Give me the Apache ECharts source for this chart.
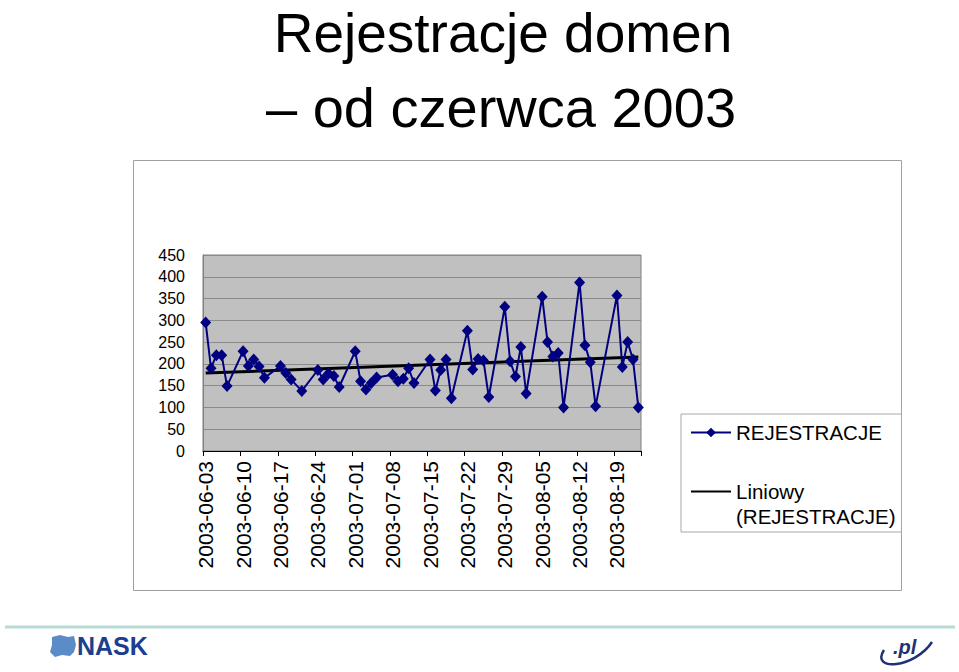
<!DOCTYPE html>
<html>
<head>
<meta charset="utf-8">
<script src="https://cdn.jsdelivr.net/npm/echarts@6/dist/echarts.min.js"></script>
<style>
html,body{margin:0;padding:0;background:#fff;}
#chart{width:959px;height:672px;}
</style>
</head>
<body>
<div id="chart"></div>
<script>
// ---- data ----
const firstDate = '2003-06-03';
const lastDate = '2003-08-23';
const obsDates = [
  '2003-06-03','2003-06-04','2003-06-05','2003-06-06','2003-06-07',
  '2003-06-10','2003-06-11','2003-06-12','2003-06-13','2003-06-14',
  '2003-06-17','2003-06-18','2003-06-19','2003-06-21',
  '2003-06-24','2003-06-25','2003-06-26','2003-06-27','2003-06-28',
  '2003-07-01','2003-07-02','2003-07-03','2003-07-04','2003-07-05',
  '2003-07-08','2003-07-09','2003-07-10','2003-07-11','2003-07-12',
  '2003-07-15','2003-07-16','2003-07-17','2003-07-18','2003-07-19',
  '2003-07-22','2003-07-23','2003-07-24','2003-07-25','2003-07-26',
  '2003-07-29','2003-07-30','2003-07-31','2003-08-01','2003-08-02',
  '2003-08-05','2003-08-06','2003-08-07','2003-08-08','2003-08-09',
  '2003-08-12','2003-08-13','2003-08-14','2003-08-15',
  '2003-08-19','2003-08-20','2003-08-21','2003-08-22','2003-08-23'
];
const registrations = [
  295,190,220,220,149,
  229,195,210,194,168,
  195,179,164,138,
  186,164,178,172,147,
  229,160,141,156,169,
  175,160,166,190,156,
  210,139,186,210,121,
  276,187,211,208,124,
  331,206,171,239,132,
  354,250,217,225,100,
  387,243,204,103,
  357,193,250,210,100
];
const trendStart = 179;   // linear trend value at first date
const trendEnd = 216;     // linear trend value at last date
const yTicks = [0,50,100,150,200,250,300,350,400,450];
const seriesName = 'REJESTRACJE';
const trendName = 'Liniowy (REJESTRACJE)';

// ---- build daily category axis ----
function fmt(d){
  const m = String(d.getUTCMonth()+1).padStart(2,'0');
  const day = String(d.getUTCDate()).padStart(2,'0');
  return d.getUTCFullYear()+'-'+m+'-'+day;
}
const categories = [];
for (let t = Date.parse(firstDate+'T00:00:00Z'); t <= Date.parse(lastDate+'T00:00:00Z'); t += 86400000) {
  categories.push(fmt(new Date(t)));
}
const regData = categories.map(c => {
  const i = obsDates.indexOf(c);
  return i >= 0 ? registrations[i] : null;
});
const trendData = categories.map((c, i) => i === 0 ? trendStart : (i === categories.length - 1 ? trendEnd : null));

const chart = echarts.init(document.getElementById('chart'), null, {renderer: 'svg'});
const FONT = 'Liberation Sans, Arial, sans-serif';
chart.setOption({
  animation: false,
  backgroundColor: '#ffffff',
  textStyle: {fontFamily: FONT},
  grid: {
    left: 203, top: 255, right: 318, bottom: 221,
    show: true, backgroundColor: '#c0c0c0', borderColor: '#808080', borderWidth: 1
  },
  xAxis: {
    type: 'category',
    data: categories,
    boundaryGap: true,
    axisLine: {lineStyle: {color: '#000', width: 1}},
    axisTick: {show: true, interval: 6, length: 5, lineStyle: {color: '#000'}},
    axisLabel: {interval: 6, rotate: 90, margin: 10, fontSize: 21, color: '#000', fontFamily: FONT},
    splitLine: {show: false}
  },
  yAxis: {
    type: 'value',
    min: yTicks[0], max: yTicks[yTicks.length-1], interval: yTicks[1]-yTicks[0],
    axisLine: {show: true, lineStyle: {color: '#808080'}},
    axisTick: {show: false},
    axisLabel: {fontSize: 16, color: '#000', margin: 18, fontFamily: FONT},
    splitLine: {show: true, lineStyle: {color: '#8a8a8a', width: 1}}
  },
  legend: {
    orient: 'vertical',
    left: 681, top: 414,
    padding: [6, 6, 3, 9],
    itemGap: 9,
    itemWidth: 40, itemHeight: 12,
    backgroundColor: '#ffffff',
    borderColor: '#a8a8a8', borderWidth: 1,
    textStyle: {fontSize: 20.5, color: '#000', lineHeight: 25, fontFamily: FONT},
    formatter: n => n === trendName ? '\nLiniowy\n(REJESTRACJE)' : n,
    data: [
      {name: seriesName},
      {name: trendName, itemStyle: {opacity: 0}}
    ]
  },
  series: [
    {
      name: seriesName,
      type: 'line',
      data: regData,
      connectNulls: true,
      showAllSymbol: true,
      symbol: 'diamond',
      symbolSize: [11, 12],
      lineStyle: {color: '#000080', width: 2},
      itemStyle: {color: '#000080'},
      z: 3
    },
    {
      name: trendName,
      type: 'line',
      data: trendData,
      connectNulls: true,
      symbol: 'none',
      lineStyle: {color: '#000000', width: 3},
      itemStyle: {color: '#000000'},
      z: 2
    }
  ],
  graphic: [
    {type: 'rect', shape: {x: 133.5, y: 160.5, width: 768, height: 430}, style: {fill: 'none', stroke: '#a0a0a0', lineWidth: 1}, z: -10},
    {type: 'text', x: 503, y: 33, style: {text: 'Rejestracje domen', font: '55px ' + FONT, fill: '#000', textAlign: 'center', textVerticalAlign: 'middle'}},
    {type: 'text', x: 501, y: 107, style: {text: '– od czerwca 2003', font: '56px ' + FONT, fill: '#000', textAlign: 'center', textVerticalAlign: 'middle'}},
    {type: 'line', shape: {x1: 5, y1: 627, x2: 955, y2: 627}, style: {stroke: '#b7dcd5', lineWidth: 3}},
    {type: 'polygon', shape: {points: [[52,637],[60,635],[68,637],[74,636],[76,645],[74,652],[70,656],[62,655],[55,657],[50,652],[52,645]]}, style: {fill: '#5b8cc8'}},
    {type: 'text', x: 77, y: 646, style: {text: 'NASK', font: '900 25px ' + FONT, fill: '#1c3e8e', textAlign: 'left', textVerticalAlign: 'middle'}},
    {type: 'bezierCurve', shape: {x1: 884, y1: 650, cpx1: 870, cpy1: 672, cpx2: 915, cpy2: 668, x2: 932, y2: 642}, style: {stroke: '#1f3275', lineWidth: 2.5, fill: 'none'}},
    {type: 'text', x: 893, y: 647, style: {text: '.pl', font: 'italic bold 20px ' + FONT, fill: '#1f3275', textAlign: 'left', textVerticalAlign: 'middle'}}
  ]
});
</script>
</body>
</html>
